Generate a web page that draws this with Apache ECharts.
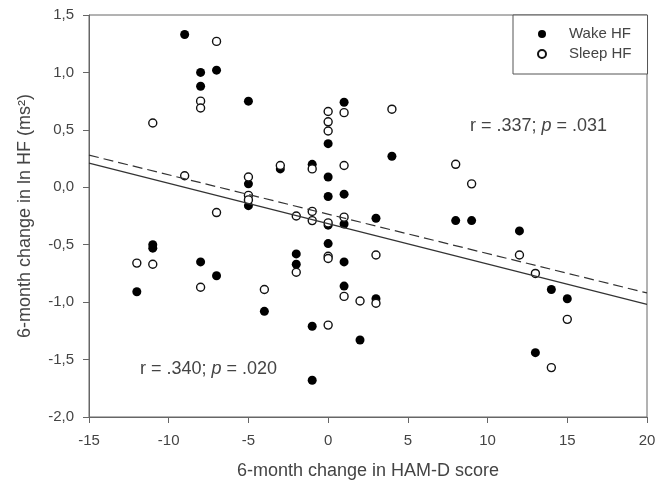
<!DOCTYPE html>
<html lang="en">
<head>
    <meta charset="UTF-8">
    <title>HAM-D vs HF</title>
    <script src="https://cdn.jsdelivr.net/npm/echarts@6/dist/echarts.min.js"></script>
    <style>
        body { margin: 0; background: #fff; }
        #chart { width: 667px; height: 487px; }
    </style>
</head>
<body>
<div id="chart"></div>
<script type="text/javascript">

    // change in HAM-D score (x) and change in ln HF (y)
    let wakeX = [-12, -11, -11, -9, -8, -8, -8, -7, -7, -5, -5, -5, -4, -3, -2, -2, -1, -1, -1,
        0, 0, 0, 0, 0, 1, 1, 1, 1, 1, 2, 3, 3, 4, 8, 9, 12, 13, 14, 15];
    let wakeY = [-0.91, -0.50, -0.53, 1.33, 1.00, 0.88, -0.65, 1.02, -0.77, 0.75, 0.03, -0.16, -1.08, 0.16, -0.58, -0.67, 0.20, -1.21, -1.68,
        0.38, 0.09, -0.08, -0.33, -0.49, 0.74, -0.06, -0.32, -0.65, -0.86, -1.33, -0.27, -0.97, 0.27, -0.29, -0.29, -0.38, -1.44, -0.89, -0.97];

    let sleepX = [-12, -11, -11, -9, -8, -8, -8, -7, -7, -5, -5, -5, -4, -3, -2, -2, -1, -1, -1,
        0, 0, 0, 0, 0, 0, 0, 1, 1, 1, 1, 2, 3, 3, 4, 8, 9, 12, 13, 14, 15];
    let sleepY = [-0.66, 0.56, -0.67, 0.10, 0.75, 0.69, -0.87, 1.27, -0.22, 0.09, -0.07, -0.11, -0.89, 0.19, -0.25, -0.74, 0.16, -0.21, -0.29,
        0.66, 0.57, 0.49, -0.31, -0.60, -0.62, -1.20, 0.65, 0.19, -0.26, -0.95, -0.99, -0.59, -1.01, 0.68, 0.20, 0.03, -0.59, -0.75, -1.57, -1.15];

    // regression lines
    let fitX = [-15, 20];
    let fitWake = [0.21, -1.02];
    let fitSleep = [0.28, -0.92];

    let xTicks = [-15, 20, 5];
    let yTicks = [-2, 1.5, 0.5];

    let font = '"Liberation Sans", Arial, sans-serif';
    let textColor = '#444';

    function pairs(xs, ys) {
        let out = [];
        for (let i = 0; i < xs.length; i++) {
            out.push([xs[i], ys[i]]);
        }
        return out;
    }

    let myChart = echarts.init(document.getElementById('chart'));

    let option = {
        animation: false,
        textStyle: { fontFamily: font },
        grid: {
            left: 89, right: 20, top: 15, bottom: 70,
            show: true,
            borderColor: '#666',
            borderWidth: 1
        },
        legend: {
            data: ['Wake HF', 'Sleep HF'],
            orient: 'vertical',
            left: 513,
            top: 15,
            padding: [11, 16, 12, 24],
            itemGap: 4,
            itemWidth: 8,
            itemHeight: 8,
            backgroundColor: '#fff',
            borderColor: '#555',
            borderWidth: 1,
            borderRadius: 0,
            textStyle: {
                fontFamily: font,
                fontSize: 15,
                lineHeight: 16,
                color: textColor,
                padding: [0, 0, 0, 18]
            }
        },
        xAxis: {
            type: 'value',
            min: xTicks[0],
            max: xTicks[1],
            interval: xTicks[2],
            name: '6-month change in HAM-D score',
            nameLocation: 'middle',
            nameGap: 45,
            nameTextStyle: { fontFamily: font, fontSize: 18, color: textColor },
            axisLine: { onZero: false, lineStyle: { color: '#666' } },
            axisTick: { show: true, length: 6, lineStyle: { color: '#666' } },
            axisLabel: { fontFamily: font, fontSize: 15, color: textColor, margin: 16 },
            splitLine: { show: false }
        },
        yAxis: {
            type: 'value',
            min: yTicks[0],
            max: yTicks[1],
            interval: yTicks[2],
            name: '6-month change in ln HF (ms\u00B2)',
            nameLocation: 'middle',
            nameGap: 55,
            nameTextStyle: { fontFamily: font, fontSize: 18, color: textColor },
            axisLine: { show: true, onZero: false, lineStyle: { color: '#666' } },
            axisTick: { show: true, length: 6, lineStyle: { color: '#666' } },
            axisLabel: {
                fontFamily: font, fontSize: 15, color: textColor, margin: 15,
                formatter: function (v) {
                    return v.toFixed(1).replace('.', ',');
                }
            },
            splitLine: { show: false }
        },
        graphic: [
            {
                type: 'text',
                left: 470,
                top: 117,
                style: {
                    text: '{a|r = .337; }{i|p}{a| = .031}',
                    rich: {
                        a: { fontFamily: font, fontSize: 18, fill: textColor },
                        i: { fontFamily: font, fontSize: 18, fontStyle: 'italic', fill: textColor }
                    }
                }
            },
            {
                type: 'text',
                left: 140,
                top: 360,
                style: {
                    text: '{a|r = .340; }{i|p}{a| = .020}',
                    rich: {
                        a: { fontFamily: font, fontSize: 18, fill: textColor },
                        i: { fontFamily: font, fontSize: 18, fontStyle: 'italic', fill: textColor }
                    }
                }
            }
        ],
        series: [
            {
                name: 'Wake fit',
                type: 'line',
                data: pairs(fitX, fitWake),
                symbol: 'none',
                silent: true,
                lineStyle: { color: '#333', width: 1.2 }
            },
            {
                name: 'Sleep fit',
                type: 'line',
                data: pairs(fitX, fitSleep),
                symbol: 'none',
                silent: true,
                lineStyle: { color: '#333', width: 1.2, type: [10, 5] }
            },
            {
                name: 'Wake HF',
                type: 'scatter',
                data: pairs(wakeX, wakeY),
                symbol: 'circle',
                symbolSize: 9,
                itemStyle: { color: '#000', opacity: 1 }
            },
            {
                name: 'Sleep HF',
                type: 'scatter',
                data: pairs(sleepX, sleepY),
                symbol: 'circle',
                symbolSize: 8,
                itemStyle: { color: '#fff', borderColor: '#111', borderWidth: 1.4, opacity: 1 }
            }
        ]
    };
    myChart.setOption(option);

</script>
</body>
</html>
